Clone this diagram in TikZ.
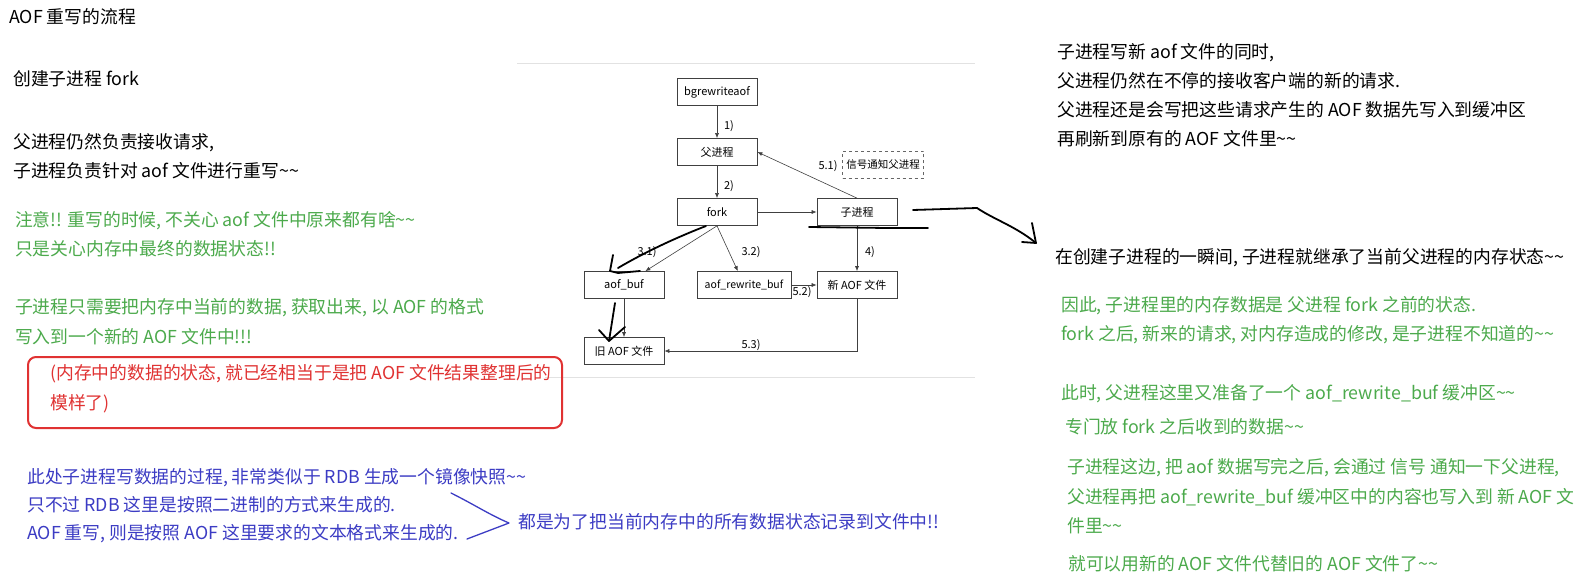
\documentclass[tikz,border=0pt]{standalone}
\usepackage{fontspec}
\setmainfont{Noto Sans CJK SC}
\usetikzlibrary{arrows.meta}

\definecolor{notegreen}{RGB}{76,170,76}
\definecolor{noteblue}{RGB}{60,60,196}
\definecolor{notered}{RGB}{224,50,50}
\definecolor{framegray}{RGB}{226,226,226}
\newcommand{\twotilde}{\textasciitilde\textasciitilde}

\begin{document}
\begin{tikzpicture}[x=1pt,y=-1pt,
    line/.style={anchor=west,inner sep=0pt,text height=16pt,text depth=3pt,font=\fontsize{17.8}{20}\selectfont},
    box/.style={draw=black!75,line width=0.7pt,minimum width=80pt,minimum height=27pt,inner sep=0pt,font=\fontsize{11}{13}\selectfont},
    flow/.style={->,draw=black!75,line width=0.6pt},
    tag/.style={inner sep=1pt,font=\fontsize{11}{13}\selectfont},
    pen/.style={line width=1.8pt,line cap=round,line join=round},
    >={Latex[length=5pt,width=4pt]}]

    \useasboundingbox (0,0) rectangle (1582,580);
    \fill[white] (0,0) rectangle (1582,580);

    % Screenshot frame
    \draw[framegray,line width=1pt] (517,64) -- (975,64);
    \draw[framegray,line width=1pt] (545,377) -- (975,377);

    % Flow boxes
    \node[box] (bgr) at (717,92) {bgrewriteaof};
    \node[box] (parent) at (717,152) {父进程};
    \node[box] (fork) at (717,212) {fork};
    \node[box] (child) at (857,212) {子进程};
    \node[box,draw=black!60,dashed,minimum width=81pt,font=\fontsize{10.5}{12}\selectfont] (signal) at (883,165) {信号通知父进程};
    \node[box] (aofbuf) at (624,285) {aof\_buf};
    \node[box,minimum width=94pt,font=\fontsize{10.5}{12}\selectfont] (rwbuf) at (744,285) {aof\_rewrite\_buf};
    \node[box] (newaof) at (857,285) {新 AOF 文件};
    \node[box] (oldaof) at (624,351) {旧 AOF 文件};

    % Flow arrows
    \draw[flow] (bgr) -- (parent);
    \draw[flow] (parent) -- (fork);
    \draw[flow] (fork) -- (child);
    \draw[flow] (child.north) -- (parent.east);
    \draw[flow] (fork.south) -- (aofbuf.33);
    \draw[flow] (fork.south) -- (rwbuf.114);
    \draw[flow] (child) -- (newaof);
    \draw[flow] (rwbuf) -- (newaof);
    \draw[flow] (aofbuf) -- (oldaof);
    \draw[flow] (newaof.south) |- (oldaof.east);

    % Step labels
    \node[tag] (s1) at (729,126) {1)};
    \node[tag] (s2) at (729,186) {2)};
    \node[tag] (s51) at (828,166) {5.1)};
    \node[tag] (s31) at (647,252) {3.1)};
    \node[tag] (s32) at (751,252) {3.2)};
    \node[tag] (s4) at (870,252) {4)};
    \node[tag] (s52) at (802,292) {5.2)};
    \node[tag] (s53) at (751,345) {5.3)};

    % Pen marks
    \draw[pen] (706,226) .. controls (670,240) and (640,255) .. (618,268);
    \draw[pen] (613,255) -- (610,271) -- (618,273) -- (640,271);
    \draw[pen] (615,303) -- (609,341);
    \draw[pen] (599,330) -- (609,341) -- (625,327);
    \draw[pen] (809,227) -- (887,228) -- (928,228);
    \coordinate (penstart) at (913,210);
    \coordinate (penend) at (1036,243);
    \draw[pen] (penstart) -- (977,208) .. controls (995,220) and (1015,226) .. (penend);
    \draw[pen] (1032,223) -- (penend) -- (1022,242);

    % Left notes
    \node[line] (title) at (9,17) {AOF 重写的流程};
    \node[line] (n1) at (13,79) {创建子进程 fork};
    \node[line] (n2) at (13,142) {父进程仍然负责接收请求,};
    \node[line] (n3) at (13,171) {子进程负责针对 aof 文件进行重写\twotilde};
    \node[line,notegreen] (g1) at (15,220) {注意!! 重写的时候, 不关心 aof 文件中原来都有啥\twotilde};
    \node[line,notegreen] (g2) at (15,249) {只是关心内存中最终的数据状态!!};
    \node[line,notegreen] (g3) at (15,307) {子进程只需要把内存中当前的数据, 获取出来, 以 AOF 的格式};
    \node[line,notegreen] (g4) at (15,337) {写入到一个新的 AOF 文件中!!!};
    \draw[notered,line width=2pt,rounded corners=8pt] (28,357) rectangle (562,428);
    \node[line,notered] (r1) at (50,373) {(内存中的数据的状态, 就已经相当于是把 AOF 文件结果整理后的};
    \node[line,notered] (r2) at (50,403) {模样了)};
    \node[line,noteblue] (b1) at (27,477) {此处子进程写数据的过程, 非常类似于 RDB 生成一个镜像快照\twotilde};
    \node[line,noteblue] (b2) at (27,505) {只不过 RDB 这里是按照二进制的方式来生成的.};
    \node[line,noteblue] (b3) at (27,533) {AOF 重写, 则是按照 AOF 这里要求的文本格式来生成的.};
    \draw[noteblue,line width=1.3pt,line join=round,line cap=round] (451,493) .. controls (475,505) and (490,515) .. (509,523) -- (467,539);
    \node[line,noteblue] (b4) at (518,522) {都是为了把当前内存中的所有数据状态记录到文件中!!};

    % Right notes
    \node[line] (m1) at (1057,52) {子进程写新 aof 文件的同时,};
    \node[line] (m2) at (1057,81) {父进程仍然在不停的接收客户端的新的请求.};
    \node[line] (m3) at (1057,110) {父进程还是会写把这些请求产生的 AOF 数据先写入到缓冲区};
    \node[line] (m4) at (1057,139) {再刷新到原有的 AOF 文件里\twotilde};
    \node[line] (m5) at (1055,257) {在创建子进程的一瞬间, 子进程就继承了当前父进程的内存状态\twotilde};
    \node[line,notegreen] (k1) at (1061,305) {因此, 子进程里的内存数据是 父进程 fork 之前的状态.};
    \node[line,notegreen] (k2) at (1061,334) {fork 之后, 新来的请求, 对内存造成的修改, 是子进程不知道的\twotilde};
    \node[line,notegreen] (k3) at (1061,393) {此时, 父进程这里又准备了一个 aof\_rewrite\_buf 缓冲区\twotilde};
    \node[line,notegreen] (k4) at (1065,427) {专门放 fork 之后收到的数据\twotilde};
    \node[line,notegreen] (k5) at (1067,467) {子进程这边, 把 aof 数据写完之后, 会通过 信号 通知一下父进程,};
    \node[line,notegreen] (k6) at (1067,497) {父进程再把 aof\_rewrite\_buf 缓冲区中的内容也写入到 新 AOF 文};
    \node[line,notegreen] (k7) at (1067,526) {件里\twotilde};
    \node[line,notegreen] (k8) at (1068,564) {就可以用新的 AOF 文件代替旧的 AOF 文件了\twotilde};
\end{tikzpicture}
\end{document}
